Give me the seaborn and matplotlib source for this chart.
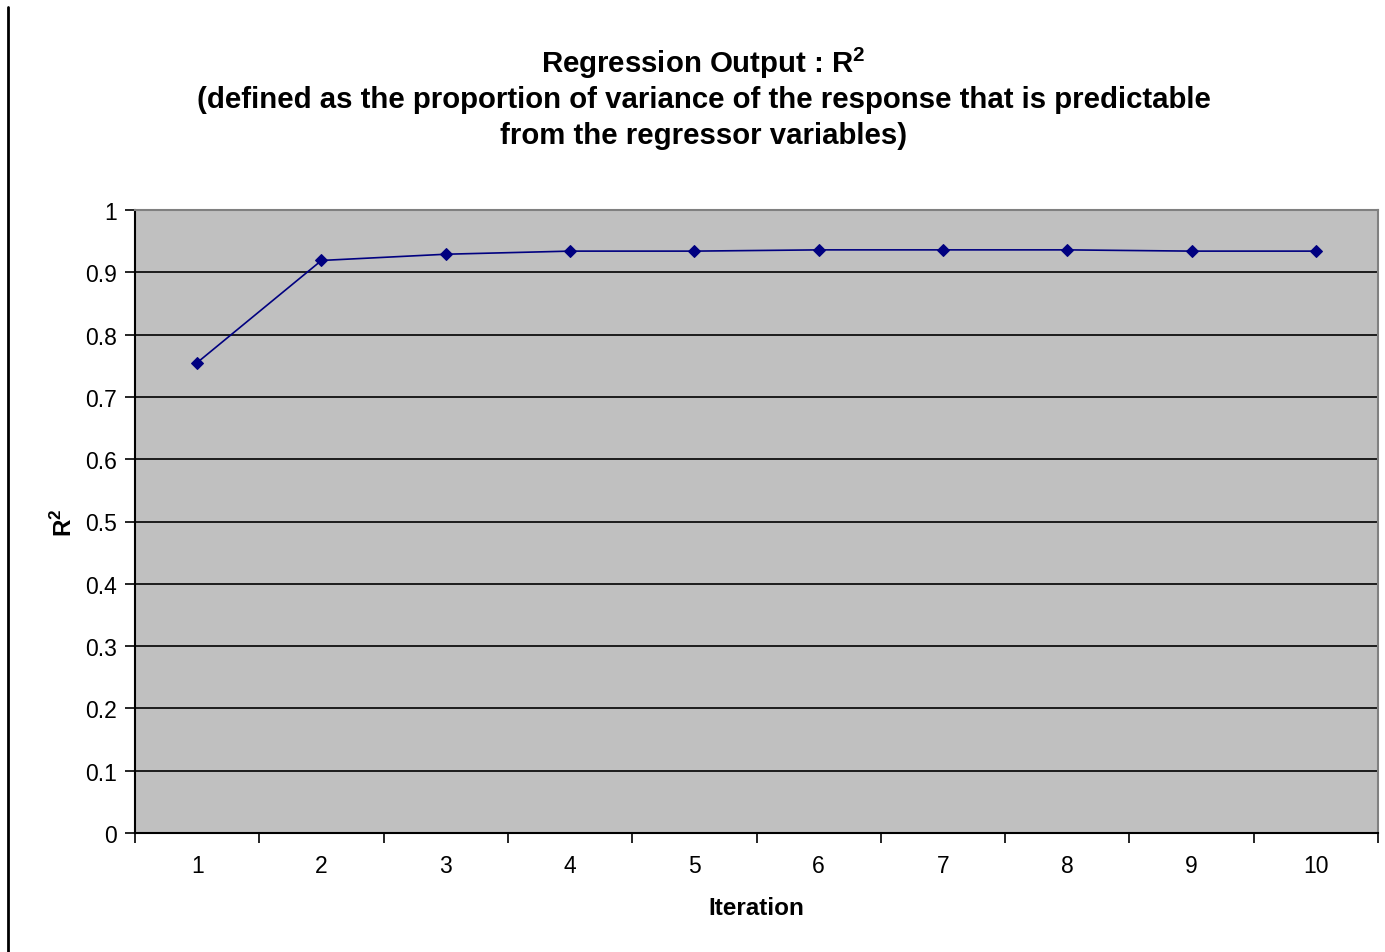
import matplotlib
matplotlib.use("Agg")
import matplotlib.pyplot as plt
import seaborn as sns
import pandas as pd
import numpy as np
from matplotlib.lines import Line2D
from matplotlib.ticker import FixedLocator

iterations = [1, 2, 3, 4, 5, 6, 7, 8, 9, 10]
r2_values = [0.755, 0.919, 0.929, 0.934, 0.934, 0.936, 0.936, 0.936, 0.934, 0.934]
y_ticks = [0, 0.1, 0.2, 0.3, 0.4, 0.5, 0.6, 0.7, 0.8, 0.9, 1]
y_tick_labels = ["0", "0.1", "0.2", "0.3", "0.4", "0.5", "0.6", "0.7", "0.8", "0.9", "1"]

sns.set_theme(style="white")
plt.rcParams["font.family"] = ["Liberation Sans", "DejaVu Sans"]
plt.rcParams["mathtext.fontset"] = "custom"
plt.rcParams["mathtext.rm"] = "Liberation Sans"
plt.rcParams["mathtext.bf"] = "Liberation Sans:bold"
plt.rcParams["text.color"] = "black"
plt.rcParams["axes.labelcolor"] = "black"
plt.rcParams["xtick.color"] = "black"
plt.rcParams["ytick.color"] = "black"

df = pd.DataFrame({"Iteration": iterations, "R2": r2_values})

fig = plt.figure(figsize=(13.85, 9.53), dpi=100)
ax = fig.add_axes([135/1385, 1 - 834/953, (1378-135)/1385, (834-211)/953])
ax.set_facecolor("#c0c0c0")

sns.lineplot(data=df, x="Iteration", y="R2", ax=ax, color="#000080", linewidth=1.2,
             marker="D", markersize=6, markeredgecolor="#000080", markerfacecolor="#000080")

ax.set_xlim(0.5, 10.5)
ax.set_ylim(0, 1)
ax.yaxis.set_major_locator(FixedLocator(y_ticks))
ax.set_yticklabels(y_tick_labels)
for y in y_ticks[1:-1]:
    ax.axhline(y, color="black", linewidth=1.2, zorder=1)

ax.set_xticks(iterations)
ax.set_xticklabels([str(i) for i in iterations])
ax.xaxis.set_minor_locator(FixedLocator(np.arange(0.5, 11, 1)))
ax.tick_params(axis="x", which="major", length=0, pad=15, labelsize=16.5)
ax.tick_params(axis="x", which="minor", length=7, width=1.2, color="black", direction="out", bottom=True)
ax.tick_params(axis="y", which="major", length=7, width=1.2, color="black", direction="out", left=True, pad=6, labelsize=16.5)

for side in ["left", "bottom"]:
    ax.spines[side].set_color("black")
    ax.spines[side].set_linewidth(1.5)
for side in ["top", "right"]:
    ax.spines[side].set_color("#808080")
    ax.spines[side].set_linewidth(1.5)

ax.set_xlabel("Iteration", fontsize=17.5, fontweight="bold", labelpad=14)
ax.set_ylabel(r"R$^\mathbf{2}$", fontsize=17.5, fontweight="bold", labelpad=6)

fig.text(0.508, 1 - 63/953, r"Regression Output : R$^\mathbf{2}$", ha="center", va="center",
         fontsize=21.2, fontweight="bold")
fig.text(0.508, 1 - 100/953, "(defined as the proportion of variance of the response that is predictable",
         ha="center", va="center", fontsize=21.2, fontweight="bold")
fig.text(0.508, 1 - 136/953, "from the regressor variables)", ha="center", va="center",
         fontsize=21.2, fontweight="bold")

fig.add_artist(Line2D([8/1385, 8/1385], [0, 1 - 8/953], transform=fig.transFigure, color="black", linewidth=2))

fig.savefig("out.png", dpi=100, facecolor="white")
